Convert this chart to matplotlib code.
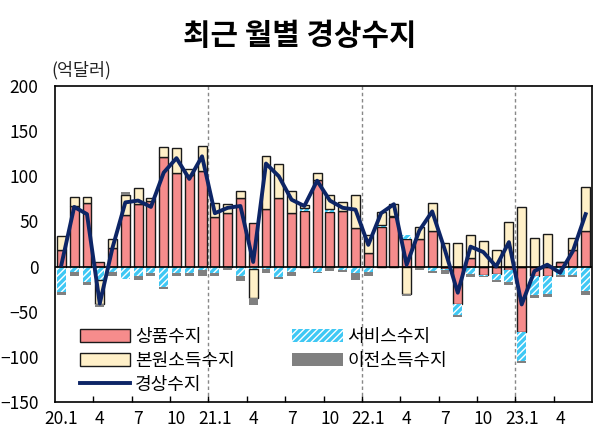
import numpy as np
import matplotlib
matplotlib.use("Agg")
import matplotlib.pyplot as plt
from matplotlib.patches import Patch
from matplotlib.lines import Line2D

plt.rcParams['font.family'] = ['Noto Sans CJK KR', 'DejaVu Sans']
plt.rcParams['hatch.linewidth'] = 1.0

tick_labels = ["20.1", "4", "7", "10", "21.1", "4", "7", "10", "22.1", "4", "7", "10", "23.1", "4"]

goods = [18, 67, 70, 5, 21, 57, 69, 72, 121, 103, 101, 106,
         55, 59, 76, 48, 64, 76, 59, 62, 96, 60, 61, 43,
         15, 44, 55, 31, 30, 39, -3, -41, 9, -9, -8, -4,
         -72, -11, -11, 5, 18, 39]
services = [-28, -6, -17, -15, -6, -14, -10, -7, -23, -7, -7, -4,
            -7, -2, -11, -3, -3, -12, -6, 3, -6, 4, -4, -7,
            -6, 1.5, 1, 4, 0, -5, -1, -13, -8, -2, -7, -13,
            -33, -20, -19, -9, -9, -27]
primary = [16, 10, 7, -26, 9, 22, 18, 4, 11, 28, 7, 27,
           15, 10, 8, -32, 58, 37, 25, 3, 7, 15, 10, 36,
           20, 15, 13, -30, 14, 31, 26, 26, 26, 28, 18, 49,
           66, 32, 36, 0, 14, 49]
transfer = [-4, -5, -3, -4, -4, 4, -5, -4, -2, -4, -4, -7,
            -4, -2, -5, -8, -4, -2, -4, -1, -1, -5, -2, -8,
            -4, -1, -1, -3, -4, -2, -4, -2, -4, -1, -2, -3,
            -2, -4, -4, -3, -3, -4]
current = [2, 66, 58, -41, 21, 71, 73, 66, 104, 120, 97, 122,
           59, 65, 67, 5, 114, 100, 74, 67, 95, 73, 65, 63,
           24, 59, 69, 2, 40, 61, 18, -29, 22, 16, 0, 27,
           -42, -5, 2, -7, 17, 58]

n = len(goods)
x = np.arange(n)

fig = plt.figure(figsize=(6.0, 4.36), dpi=100)
ax = fig.add_axes([0.0917, 0.078, 0.895, 0.725])

pos_base = np.zeros(n)
neg_base = np.zeros(n)

styles = [
    (goods, dict(color='#F68C8C', edgecolor='#1a1a1a', linewidth=1.0)),
    (services, dict(color='#3FC8F4', edgecolor='white', linewidth=0, hatch='/////')),
    (primary, dict(color='#FFF0C8', edgecolor='#1a1a1a', linewidth=1.0)),
    (transfer, dict(color='#808080', edgecolor='none', linewidth=0)),
]
w = 0.7
for vals, st in styles:
    v = np.array(vals, dtype=float)
    bottoms = np.where(v >= 0, pos_base, neg_base)
    ax.bar(x, v, width=w, bottom=bottoms, zorder=2, **st)
    pos_base = pos_base + np.where(v >= 0, v, 0)
    neg_base = neg_base + np.where(v < 0, v, 0)

ax.plot(x, current, color='#0D2566', linewidth=2.8, zorder=4)

ax.axhline(0, color='black', linewidth=1.2, zorder=3)
for b in [11.5, 23.5, 35.5]:
    ax.axvline(b, color='#888888', linestyle=(0, (2.5, 2)), linewidth=1.0, zorder=1)

ax.set_xlim(-0.5, n - 0.5)
ax.set_ylim(-150, 200)
ax.set_yticks(np.arange(-150, 201, 50))
ax.tick_params(axis='y', length=0, labelsize=12.5, pad=12)
ax.set_xticks(np.arange(0, 40, 3))
ax.set_xticklabels(tick_labels, fontsize=12.5)
ax.tick_params(axis='x', which='major', length=0, pad=6)
ax.set_xticks(np.arange(2.5, n - 1, 3), minor=True)
ax.tick_params(axis='x', which='minor', direction='in', length=4, width=1)
for s in ax.spines.values():
    s.set_linewidth(1.2)
    s.set_color('black')

handles = [
    Patch(facecolor='#F68C8C', edgecolor='#1a1a1a', linewidth=1.0),
    Patch(facecolor='#FFF0C8', edgecolor='#1a1a1a', linewidth=1.0),
    Line2D([0], [0], color='#0D2566', linewidth=2.8),
    Patch(facecolor='#3FC8F4', edgecolor='white', linewidth=0, hatch='/////'),
    Patch(facecolor='#808080', edgecolor='none'),
]
labels = ['상품수지', '본원소득수지', '경상수지', '서비스수지', '이전소득수지']
ax.legend(handles, labels, ncol=2, loc='lower left', bbox_to_anchor=(0.016, -0.025),
          frameon=False, fontsize=13, handlelength=2.8, handleheight=0.7,
          columnspacing=3.2, labelspacing=0.32, handletextpad=0.25)

fig.text(0.5, 0.918, '최근 월별 경상수지', ha='center', va='center', fontsize=21.5, fontweight='bold')
fig.text(0.086, 0.84, '(억달러)', ha='left', va='center', fontsize=12.5, color='#222222')

fig.savefig('out.png', dpi=100)
